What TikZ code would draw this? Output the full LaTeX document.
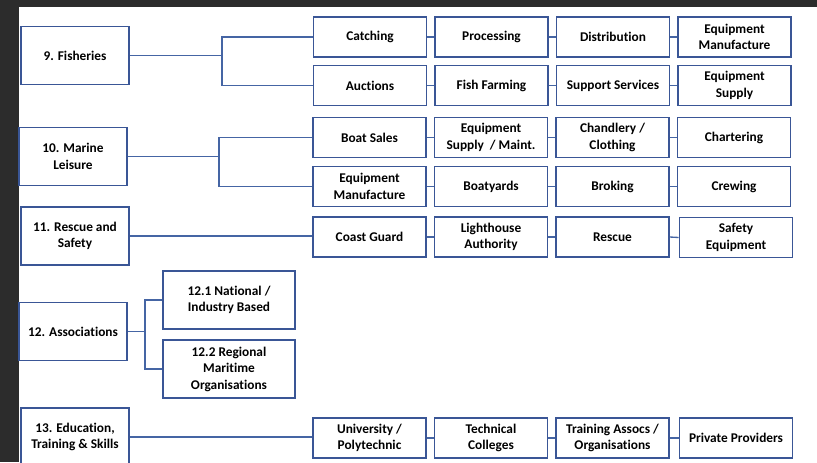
\documentclass[tikz,border=0pt]{standalone}
\usepackage{fontspec}
\newfontfamily\carlito[Ligatures=NoCommon]{Carlito}
\definecolor{boxblue}{HTML}{3A5696}
\definecolor{lineblue}{HTML}{4565A4}
\definecolor{darkbg}{HTML}{2C2C2C}
\begin{document}
\begin{tikzpicture}[x=0.75pt,y=-0.75pt,
  bx/.style={draw=boxblue, line width=1.3pt, fill=white, align=center,
    inner sep=1pt, font=\carlito\bfseries\fontsize{10}{12.4}\selectfont,
    minimum width=113*0.75pt, minimum height=40*0.75pt},
  mainbx/.style={bx, minimum width=108*0.75pt, minimum height=58*0.75pt},
  subbx/.style={bx, minimum width=132*0.75pt, minimum height=58*0.75pt},
  conn/.style={draw=lineblue, line width=1pt}]
\clip (0,0) rectangle (817,462);
\fill[darkbg] (0,0) rectangle (817,462);
\fill[white] (19,7) rectangle (817,462);

% main boxes
\node[mainbx] (f9)  at (75,55.5)  {9. Fisheries};
\node[mainbx] (m10) at (73,156.5) {10. Marine\\Leisure};
\node[mainbx] (r11) at (75,236)   {11. Rescue and\\Safety};
\node[mainbx] (a12) at (73,331.5) {12. Associations};
\node[mainbx] (e13) at (75,437)   {13. Education,\\Training \& Skills};

\node[subbx] (n121) at (229,300) {12.1 National /\\Industry Based};
\node[subbx] (n122) at (229,369) {12.2 Regional\\Maritime\\Organisations};

% row 1
\node[bx] (catch) at (370,37)   {Catching};
\node[bx] (proc)  at (491.5,37) {Processing};
\node[bx] (dist)  at (613,37)   {Distribution};
\node[bx] (eqm1)  at (734.5,37) {Equipment\\Manufacture};
% row 2
\node[bx] (auct)  at (370,85.5)   {Auctions};
\node[bx] (farm)  at (491.5,85.5) {Fish Farming};
\node[bx] (supp)  at (613,85.5)   {Support Services};
\node[bx] (eqs)   at (734.5,85.5) {Equipment\\Supply};
% row 3
\node[bx] (boat)  at (369.5,137.5) {Boat Sales};
\node[bx] (eqsm)  at (491,137.5)   {Equipment\\Supply~ / Maint.};
\node[bx] (chand) at (612.5,137.5) {Chandlery /\\Clothing};
\node[bx] (chart) at (734,137.5)   {Chartering};
% row 4
\node[bx] (eqm2)  at (369.5,186.5) {Equipment\\Manufacture};
\node[bx] (yard)  at (491,186.5)   {Boatyards};
\node[bx] (brok)  at (612.5,186.5) {Broking};
\node[bx] (crew)  at (734,186.5)   {Crewing};
% row 5
\node[bx] (coast) at (369.5,237)   {Coast Guard};
\node[bx] (light) at (491,237)     {Lighthouse\\Authority};
\node[bx] (resc)  at (612.5,237)   {Rescue};
\node[bx] (safe)  at (736,237.5)   {Safety\\Equipment};
% row 6
\node[bx] (univ)  at (369.5,438)   {University /\\Polytechnic};
\node[bx] (tech)  at (491,438)     {Technical\\Colleges};
\node[bx] (train) at (612.5,438)   {Training Assocs /\\Organisations};
\node[bx] (priv)  at (736,438)     {Private Providers};

% trunk connectors
\coordinate (j9) at (222,55.5);
\draw[conn] (f9.east) -- (j9);
\draw[conn] (j9) |- (catch.west);
\draw[conn] (j9) |- (auct.west);

\coordinate (j10) at (219,156.5);
\draw[conn] (m10.east) -- (j10);
\draw[conn] (j10) |- (boat.west);
\draw[conn] (j10) |- (eqm2.west);

\draw[conn] (r11.east) -- (r11.east -| coast.west);

\coordinate (j12) at (145,331.5);
\draw[conn] (a12.east) -- (j12);
\draw[conn] (j12) |- (n121.west);
\draw[conn] (j12) |- (n122.west);

\draw[conn] (e13.east) -- (e13.east -| univ.west);

% row connectors
\foreach \a/\b in {catch/proc,proc/dist,dist/eqm1,auct/farm,farm/supp,supp/eqs,
  boat/eqsm,eqsm/chand,chand/chart,eqm2/yard,yard/brok,brok/crew,
  coast/light,light/resc,resc/safe,univ/tech,tech/train,train/priv}
  \draw[conn] (\a.east) -- (\b.west);
\end{tikzpicture}
\end{document}
